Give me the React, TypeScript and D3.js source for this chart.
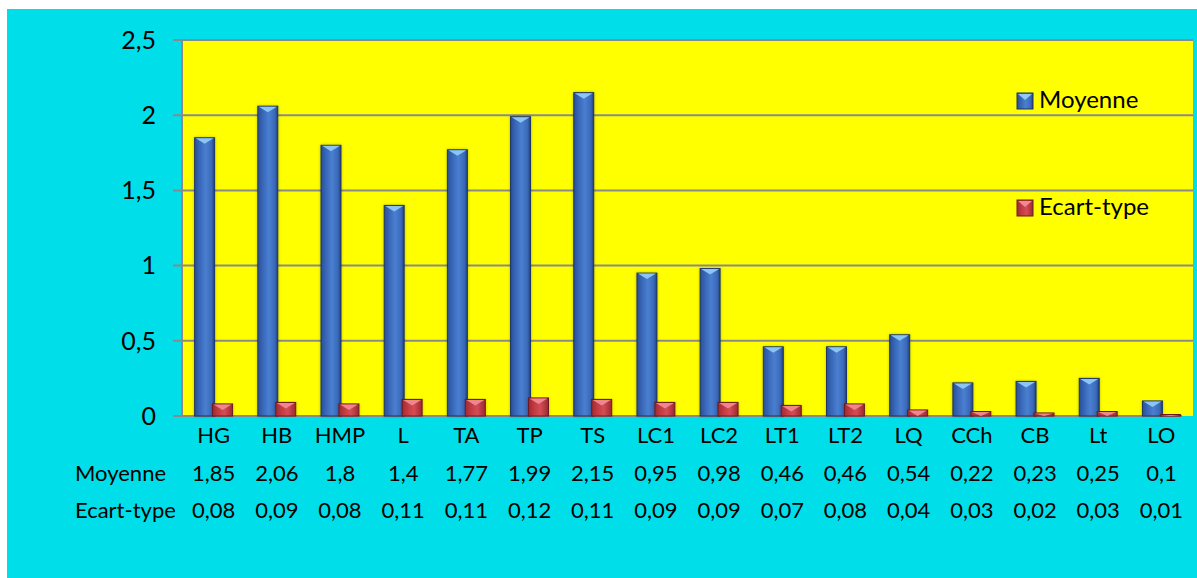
import React from "react";
import * as d3 from "d3";

const categories = ["HG", "HB", "HMP", "L", "TA", "TP", "TS", "LC1", "LC2", "LT1", "LT2", "LQ", "CCh", "CB", "Lt", "LO"];
const moyenne = [1.85, 2.06, 1.8, 1.4, 1.77, 1.99, 2.15, 0.95, 0.98, 0.46, 0.46, 0.54, 0.22, 0.23, 0.25, 0.1];
const ecartType = [0.08, 0.09, 0.08, 0.11, 0.11, 0.12, 0.11, 0.09, 0.09, 0.07, 0.08, 0.04, 0.03, 0.02, 0.03, 0.01];
const seriesNames = ["Moyenne", "Ecart-type"];
const yTicks = [0, 0.5, 1, 1.5, 2, 2.5];

const W = 1197;
const H = 578;
const plot = { left: 182, right: 1193, top: 40, bottom: 416 };
const FONT = "Lato, 'Open Sans', sans-serif";

const fmt = (v: number) => String(v).replace(".", ",");

export default function App() {
  const x = d3.scaleBand<string>().domain(categories).range([plot.left, plot.right]).padding(0);
  const y = d3.scaleLinear().domain([0, 2.5]).range([plot.bottom, plot.top]);
  const step = x.step();
  const bw = step * 0.3;
  const sub = d3.scaleBand<string>().domain(seriesNames).range([-bw, bw]).padding(0);

  const series = [
    { name: seriesNames[0], values: moyenne, grad: "gBlue", top: "#8ec9f7", edge: "#1c3566" },
    { name: seriesNames[1], values: ecartType, grad: "gRed", top: "#f08a92", edge: "#6e1a20" },
  ];

  const bar = (s: typeof series[number], v: number, i: number, si: number) => {
    const c = (x(categories[i]) as number) + step / 2;
    const x0 = c + (sub(s.name) as number) + (si === 0 ? 0 : -1);
    const w = bw + 1;
    const yTop = y(v);
    const h = plot.bottom - yTop;
    const bev = Math.min(6, h);
    return (
      <g key={s.name + i}>
        <rect x={x0} y={yTop} width={w} height={h} fill={`url(#${s.grad})`} stroke={s.edge} strokeWidth={1} filter="url(#shadow)" />
        <polygon
          points={`${x0 + 1},${yTop + 0.5} ${x0 + w - 1},${yTop + 0.5} ${x0 + w / 2},${yTop + bev}`}
          fill={s.top}
          opacity={0.95}
        />
      </g>
    );
  };

  return (
    <svg width={W} height={H} style={{ position: "absolute", left: 0, top: 0 }} fontFamily={FONT}>
      <defs>
        <linearGradient id="gBlue" x1="0" x2="1" y1="0" y2="0">
          <stop offset="0" stopColor="#2a4f93" />
          <stop offset="0.25" stopColor="#3867b8" />
          <stop offset="0.55" stopColor="#4a7fd0" />
          <stop offset="0.85" stopColor="#3a69b9" />
          <stop offset="1" stopColor="#243f7a" />
        </linearGradient>
        <linearGradient id="gRed" x1="0" x2="1" y1="0" y2="0">
          <stop offset="0" stopColor="#9e2a32" />
          <stop offset="0.3" stopColor="#c53b44" />
          <stop offset="0.6" stopColor="#d54c55" />
          <stop offset="1" stopColor="#9a2830" />
        </linearGradient>
        <filter id="shadow" x="-30%" y="-5%" width="160%" height="110%">
          <feDropShadow dx="0" dy="0" stdDeviation="1.5" floodColor="#000" floodOpacity="0.25" />
        </filter>
      </defs>

      <rect x={0} y={0} width={W} height={H} fill="#ffffff" />
      <rect x={7} y={9} width={W - 7} height={H - 9} fill="#00dfe9" />
      <rect x={plot.left} y={plot.top} width={plot.right - plot.left} height={plot.bottom - plot.top} fill="#ffff00" />

      {/* gridlines and y-axis labels */}
      {yTicks.map((t) => (
        <g key={t}>
          <line x1={173} x2={t === 0 ? 1182 : plot.right} y1={y(t)} y2={y(t)} stroke="#8a8a8a" strokeWidth={2} />
          <text x={156} y={y(t)} dy="0.35em" textAnchor="end" fontSize={25} fill="#000">
            {fmt(t)}
          </text>
        </g>
      ))}
      <line x1={plot.left} x2={plot.left} y1={plot.top} y2={plot.bottom} stroke="#8a8a8a" strokeWidth={2} />

      {/* bars */}
      {series.map((s, si) => s.values.map((v, i) => bar(s, v, i, si)))}

      {/* data table */}
      {categories.map((c, i) => {
        const cx = (x(c) as number) + step / 2;
        return (
          <g key={c} fontSize={22} textAnchor="middle" fill="#000">
            <text x={cx} y={443}>{c}</text>
            <text x={cx} y={481}>{fmt(moyenne[i])}</text>
            <text x={cx} y={518}>{fmt(ecartType[i])}</text>
          </g>
        );
      })}
      <text x={75} y={481} fontSize={22}>{seriesNames[0]}</text>
      <text x={75} y={518} fontSize={22}>{seriesNames[1]}</text>

      {/* legend */}
      {series.map((s, si) => {
        const ly = si === 0 ? 93 : 200;
        return (
          <g key={s.name}>
            <rect x={1017} y={ly} width={16} height={16} fill={`url(#${s.grad})`} stroke={s.edge} strokeWidth={1} />
            <polygon points={`${1018},${ly + 1} ${1032},${ly + 1} ${1025},${ly + 7}`} fill={s.top} />
            <text x={1039} y={ly + 15} fontSize={24} fill="#000">{s.name}</text>
          </g>
        );
      })}
    </svg>
  );
}
